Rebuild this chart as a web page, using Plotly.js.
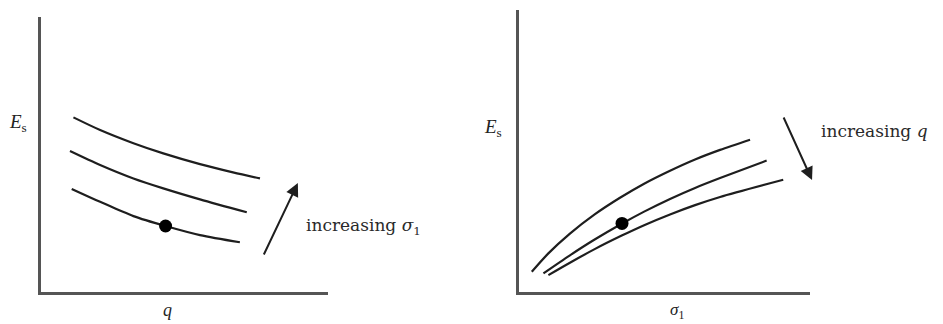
<!DOCTYPE html>
<html>
<head>
<meta charset="utf-8">
<script src="https://cdn.plot.ly/plotly-3.0.1.min.js"></script>
<style>html,body{margin:0;padding:0;background:#fff;}#chart{width:943px;height:324px;}</style>
</head>
<body>
<div id="chart"></div>
<script>
// Left panel: E_s vs q, three curves for increasing sigma_1
const leftX_top = [1.13, 2.06, 3.22, 4.26, 5.54, 6.69, 7.63];
const leftY_top = [6.35, 5.89, 5.41, 5.04, 4.65, 4.35, 4.13];
const leftX_mid = [1.01, 2.06, 3.22, 4.26, 5.54, 7.17];
const leftY_mid = [5.13, 4.62, 4.13, 3.77, 3.37, 2.90];
const leftX_bot = [1.07, 2.06, 3.22, 4.34, 5.54, 6.93];
const leftY_bot = [3.75, 3.28, 2.76, 2.40, 2.07, 1.81];
const leftDot = {x: [4.34], y: [2.40]};

// Right panel: E_s vs sigma_1, three curves for increasing q
const rightX_top = [0.44, 1.0, 1.75, 2.6, 3.47, 4.3, 5.19, 6.05, 6.91, 7.94];
const rightY_top = [0.72, 1.36, 2.07, 2.75, 3.34, 3.84, 4.30, 4.70, 5.04, 5.40];
const rightX_mid = [0.84, 1.75, 2.6, 3.53, 4.3, 5.19, 6.05, 6.91, 8.51];
const rightY_mid = [0.66, 1.30, 1.86, 2.42, 2.85, 3.30, 3.69, 4.04, 4.66];
const rightX_bot = [1.01, 1.75, 2.6, 3.53, 4.3, 5.19, 6.05, 6.91, 9.08];
const rightY_bot = [0.60, 1.04, 1.52, 2.00, 2.37, 2.75, 3.08, 3.37, 3.98];
const rightDot = {x: [3.54], y: [2.43]};

const labels = {
  leftY: '<i>E</i><sub>s</sub>',
  leftX: '<i>q</i>',
  leftNote: 'increasing <i>σ</i><sub>1</sub>',
  rightY: '<i>E</i><sub>s</sub>',
  rightX: '<i>σ</i><sub>1</sub>',
  rightNote: 'increasing <i>q</i>'
};

const W = 943, H = 324;
const lineStyle = {color: '#1e1e1e', width: 2.2, shape: 'spline', smoothing: 0.8};
function curve(x, y, xa, ya) {
  return {x: x, y: y, xaxis: xa, yaxis: ya, mode: 'lines', line: lineStyle, hoverinfo: 'skip'};
}
function dot(d, xa, ya) {
  return {x: d.x, y: d.y, xaxis: xa, yaxis: ya, mode: 'markers', marker: {color: '#000', size: 13}, hoverinfo: 'skip'};
}

const data = [
  curve(leftX_top, leftY_top, 'x', 'y'),
  curve(leftX_mid, leftY_mid, 'x', 'y'),
  curve(leftX_bot, leftY_bot, 'x', 'y'),
  dot(leftDot, 'x', 'y'),
  curve(rightX_top, rightY_top, 'x2', 'y2'),
  curve(rightX_mid, rightY_mid, 'x2', 'y2'),
  curve(rightX_bot, rightY_bot, 'x2', 'y2'),
  dot(rightDot, 'x2', 'y2')
];

const axBase = {showgrid: false, zeroline: false, showticklabels: false, ticks: '', showline: true, linecolor: '#555', linewidth: 3, range: [0, 10], fixedrange: true};
const serif = {family: '"Liberation Serif", "DejaVu Serif", serif', color: '#222'};
const noteFont = {family: '"DejaVu Serif", "Liberation Serif", serif', color: '#2a2a2a', size: 17};

const layout = {
  width: W, height: H,
  margin: {l: 0, r: 0, t: 0, b: 0},
  paper_bgcolor: '#fff', plot_bgcolor: '#fff',
  showlegend: false,
  xaxis: Object.assign({}, axBase, {domain: [41 / W, 328 / W], anchor: 'y'}),
  yaxis: Object.assign({}, axBase, {domain: [(H - 292) / H, (H - 17) / H], anchor: 'x'}),
  xaxis2: Object.assign({}, axBase, {domain: [519 / W, 810 / W], anchor: 'y2'}),
  yaxis2: Object.assign({}, axBase, {domain: [(H - 292) / H, (H - 10) / H], anchor: 'x2'}),
  annotations: [
    // arrows
    {xref: 'x', yref: 'y', axref: 'x', ayref: 'y', x: 8.95, y: 3.96, ax: 7.74, ay: 1.31,
     showarrow: true, arrowhead: 2, arrowsize: 1.3, arrowwidth: 2, arrowcolor: '#1e1e1e', text: ''},
    {xref: 'x2', yref: 'y2', axref: 'x2', ayref: 'y2', x: 10.07, y: 3.97, ax: 9.07, ay: 6.24,
     showarrow: true, arrowhead: 2, arrowsize: 1.3, arrowwidth: 2, arrowcolor: '#1e1e1e', text: ''},
    // notes
    {xref: 'paper', yref: 'paper', x: 304 / W, y: (H - 226) / H, xanchor: 'left', yanchor: 'middle',
     showarrow: false, text: labels.leftNote, font: noteFont},
    {xref: 'paper', yref: 'paper', x: 819 / W, y: (H - 131) / H, xanchor: 'left', yanchor: 'middle',
     showarrow: false, text: labels.rightNote, font: noteFont},
    // axis labels
    {xref: 'paper', yref: 'paper', x: 18 / W, y: (H - 123) / H, xanchor: 'center', yanchor: 'middle',
     showarrow: false, text: labels.leftY, font: Object.assign({size: 19}, serif)},
    {xref: 'paper', yref: 'paper', x: 167 / W, y: (H - 310) / H, xanchor: 'center', yanchor: 'middle',
     showarrow: false, text: labels.leftX, font: Object.assign({size: 18}, serif)},
    {xref: 'paper', yref: 'paper', x: 493 / W, y: (H - 128) / H, xanchor: 'center', yanchor: 'middle',
     showarrow: false, text: labels.rightY, font: Object.assign({size: 19}, serif)},
    {xref: 'paper', yref: 'paper', x: 677 / W, y: (H - 311) / H, xanchor: 'center', yanchor: 'middle',
     showarrow: false, text: labels.rightX, font: Object.assign({size: 17}, serif)}
  ]
};

Plotly.newPlot('chart', data, layout, {displayModeBar: false, staticPlot: true});
</script>
</body>
</html>
